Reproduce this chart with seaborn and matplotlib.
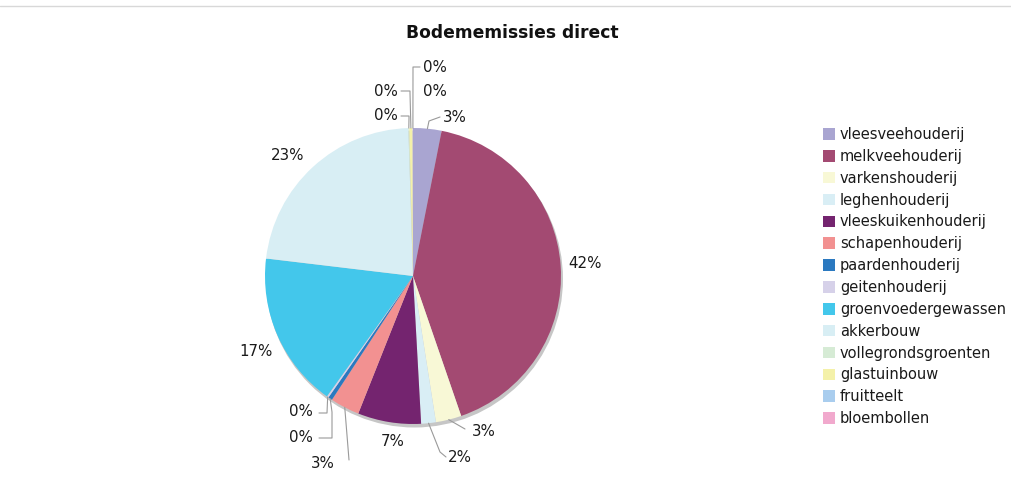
import matplotlib
matplotlib.use("Agg")
import matplotlib.pyplot as plt
from matplotlib.patches import Patch, Circle
from matplotlib.lines import Line2D
import numpy as np
import seaborn as sns

# Direct soil emissions per sector (share of total, %)
categories = [
    "vleesveehouderij", "melkveehouderij", "varkenshouderij", "leghenhouderij",
    "vleeskuikenhouderij", "schapenhouderij", "paardenhouderij", "geitenhouderij",
    "groenvoedergewassen", "akkerbouw", "vollegrondsgroenten", "glastuinbouw",
    "fruitteelt", "bloembollen",
]
shares = [3.1, 41.6, 2.8, 1.6, 6.9, 3.2, 0.45, 0.2, 17.0, 22.6, 0.1, 0.35, 0.03, 0.02]
colors_hex = [
    "#a9a5d1", "#a34a72", "#f8f8d6", "#d9eef5", "#74246f", "#f29191", "#2b79c0",
    "#d6d1e9", "#43c7eb", "#d8eef4", "#d6ebd5", "#f4f1a9", "#a9cdee", "#f1a9cd",
]
title = "Bodememissies direct"

sns.set_theme(style="white")
plt.rcParams["font.family"] = ["DejaVu Sans"]

W, H = 1011, 488
fig = plt.figure(figsize=(W / 100, H / 100), dpi=100)
ax = fig.add_axes([0, 0, 1, 1])


def px(x, y):
    """Convert top-left pixel coordinates to axes data coordinates."""
    return x, H - y


cx, cy = px(413, 276)
R = 148

# soft drop shadow behind the pie
ax.add_patch(Circle((cx + 1.5, cy - 3), R + 0.5, facecolor="#c6c6c6",
                    edgecolor="none", zorder=0))

palette = sns.color_palette(colors_hex)
wedges, _ = ax.pie(
    shares, colors=palette, startangle=90, counterclock=False,
    center=(cx, cy), radius=R, frame=True,
    wedgeprops=dict(edgecolor="none", linewidth=0),
)
for w in wedges:
    w.set_zorder(2)

total = sum(shares)
pct_labels = [f"{v / total * 100:.0f}%" for v in shares]

# label anchor (x, y, ha) and connector bend points, in pixel coordinates
layout = {
    "vleesveehouderij": (443, 117, "left", [(429, 121), (440, 117)]),
    "melkveehouderij": (568, 264, "left", None),
    "varkenshouderij": (472, 432, "left", [(465, 429)]),
    "leghenhouderij": (448, 457, "left", [(440, 452), (446, 457)]),
    "vleeskuikenhouderij": (393, 441, "center", None),
    "schapenhouderij": (323, 464, "center", [(349, 460)]),
    "paardenhouderij": (313, 438, "right", [(332, 412), (332, 438), (319, 438)]),
    "geitenhouderij": (313, 412, "right", [(327, 413), (319, 413)]),
    "groenvoedergewassen": (256, 351, "center", None),
    "akkerbouw": (288, 156, "center", None),
    "vollegrondsgroenten": (398, 116, "right", [(409, 118), (409, 116), (401, 116)]),
    "glastuinbouw": (398, 91, "right", [(410, 93), (410, 91), (401, 91)]),
    "fruitteelt": (423, 92, "left", None),
    "bloembollen": (423, 67, "left", [(413, 67), (420, 67)]),
}

for w, cat, lab in zip(wedges, categories, pct_labels):
    lx, ly, ha, bends = layout[cat]
    if bends:
        mid = np.deg2rad((w.theta1 + w.theta2) / 2)
        ex, ey = cx + R * np.cos(mid), cy + R * np.sin(mid)
        xs = [ex] + [px(*b)[0] for b in bends]
        ys = [ey] + [px(*b)[1] for b in bends]
        ax.plot(xs, ys, color="#9a9a9a", lw=0.8, zorder=3)
    tx, ty = px(lx, ly)
    ax.text(tx, ty, lab, ha=ha, va="center", fontsize=10.8, color="#1a1a1a", zorder=4)

ax.text(*px(512, 33), title, ha="center", va="center", fontsize=12.3,
        fontweight="bold", color="#111111")

handles = [Patch(facecolor=c, edgecolor="none") for c in palette]
ax.legend(
    handles, categories, loc="upper left",
    bbox_to_anchor=(823 / W, 1 - 127 / H), frameon=False, fontsize=10.5,
    handlelength=0.85, handleheight=0.85, handletextpad=0.3,
    labelspacing=0.47, borderpad=0, borderaxespad=0,
    labelcolor="#1a1a1a",
)

ax.add_line(Line2D([0, W], [H - 6, H - 6], color="#d8d8d8", lw=1))

ax.set_xlim(0, W)
ax.set_ylim(0, H)
ax.set_aspect("equal")
ax.axis("off")

fig.savefig("out.png", dpi=100)
